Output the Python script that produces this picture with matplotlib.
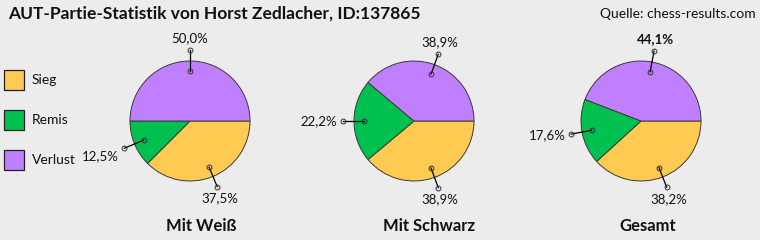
import numpy as np
import matplotlib.pyplot as plt

# data
kategorien = ['Sieg', 'Remis', 'Verlust']
farben = ['#FFCA52', '#00C050', '#BF7FFF']
titel = ['Mit Weiß', 'Mit Schwarz', 'Gesamt']
weiss = [37.5, 12.5, 50.0]
schwarz = [38.9, 22.2, 38.9]
gesamt = [38.2, 17.6, 44.1]

W, H = 760, 240
plt.rcParams['font.family'] = ['Lato', 'DejaVu Sans']

fig = plt.figure(figsize=(W / 100, H / 100), dpi=100)
fig.patch.set_facecolor('#ECECEC')
ax = fig.add_axes([0, 0, 1, 1])
ax.set_facecolor('#ECECEC')

# positions in pixel coords (y from top)
zentren = [(190, 121), (414, 121), (641, 121)]
titel_x = [201, 429, 648]
R = 60

def Y(y):
    return H - y

for werte, (cx, cy), name, tx in zip([weiss, schwarz, gesamt], zentren, titel, titel_x):
    wedges, _ = ax.pie(werte, colors=farben, startangle=0, counterclock=False,
                       radius=R, center=(cx, Y(cy)), frame=True,
                       wedgeprops=dict(edgecolor='#3a3a3a', linewidth=0.7))
    for w, v in zip(wedges, werte):
        ang = np.deg2rad((w.theta1 + w.theta2) / 2)
        c, s = np.cos(ang), np.sin(ang)
        x1, y1 = cx + 50 * c, Y(cy) + 50 * s
        x2, y2 = cx + 71 * c, Y(cy) + 71 * s
        ax.plot([x1, x2], [y1, y2], color='black', lw=0.9, zorder=5)
        ax.plot([x1, x2], [y1, y2], 'o', ms=3.5, mfc='none', mec='#333333', mew=0.7, zorder=6)
        ha = 'right' if c < -0.5 else ('left' if c > 0.5 else 'center')
        va = 'bottom' if s > 0.3 else ('top' if s < -0.3 else 'center')
        txt = f'{v:.1f}'.replace('.', ',') + '%'
        ax.text(x2 + 6 * c, y2 + 6 * s, txt, ha=ha, va=va, fontsize=9.5,
                fontweight='bold' if v == 44.1 else 'normal', color='#111111')
    ax.text(tx, Y(226), name, ha='center', va='center', fontsize=12,
            fontweight='bold', color='#111111')

# legend
for i, (k, f) in enumerate(zip(kategorien, farben)):
    y0 = 70 + 40 * i
    ax.add_patch(plt.Rectangle((4, Y(y0 + 20)), 20, 20, facecolor=f,
                               edgecolor='#222222', linewidth=0.9))
    ax.text(32, Y(y0 + 10), k, ha='left', va='center', fontsize=10, color='#111111')

ax.text(8, Y(14), 'AUT-Partie-Statistik von Horst Zedlacher, ID:137865',
        ha='left', va='center', fontsize=12.5, fontweight='bold', color='#111111')
ax.text(756, Y(14), 'Quelle: chess-results.com', ha='right', va='center',
        fontsize=10, color='#111111')

ax.set_xlim(0, W)
ax.set_ylim(0, H)
ax.set_aspect('auto')
ax.axis('off')

fig.savefig('out.png', dpi=100, facecolor=fig.get_facecolor())
